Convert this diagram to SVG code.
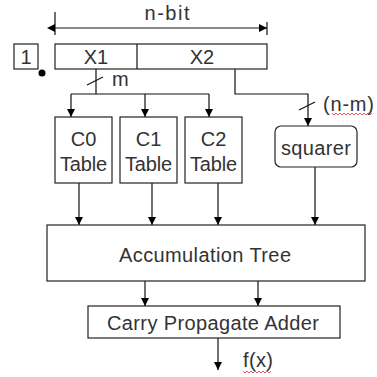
<svg xmlns="http://www.w3.org/2000/svg" width="377" height="377" viewBox="0 0 377 377">
<style>
.box{fill:#fff;stroke:#222;stroke-width:1.2}
.ln{fill:none;stroke:#111;stroke-width:1.2}
.t{font-family:"Liberation Sans",Arial,sans-serif;font-size:20px;fill:#333;text-anchor:middle}
.s{text-anchor:start}
.sq{fill:none;stroke:#e03030;stroke-width:0.8}
</style>
<defs>
<marker id="ah" viewBox="0 0 8 10" refX="8" refY="5" markerWidth="8" markerHeight="10" markerUnits="userSpaceOnUse" orient="auto">
<path d="M0,1 L8,5 L0,9 Z" fill="#000"/>
</marker>
<marker id="ahs" viewBox="0 0 8 10" refX="0" refY="5" markerWidth="8" markerHeight="10" markerUnits="userSpaceOnUse" orient="auto-start-reverse">
<path d="M0,1 L8,5 L0,9 Z" fill="#000"/>
</marker>
</defs>
<rect width="377" height="377" fill="#fff"/>
<g id="connectors">
<path class="ln" d="M55,12 V35 M267,22 V35"/>
<line class="ln" x1="55" y1="28" x2="267" y2="28" marker-start="url(#ahs)" marker-end="url(#ah)"/>
<path class="ln" d="M96,69 V94 M71,94 H209"/>
<line class="ln" x1="87" y1="85" x2="103" y2="77"/>
<line class="ln" x1="71" y1="94" x2="71" y2="117" marker-end="url(#ah)"/>
<line class="ln" x1="145" y1="94" x2="145" y2="117" marker-end="url(#ah)"/>
<line class="ln" x1="209" y1="94" x2="209" y2="117" marker-end="url(#ah)"/>
<path class="ln" d="M235,69 V94 H308 V126" marker-end="url(#ah)"/>
<line class="ln" x1="299" y1="110" x2="315" y2="102"/>
<line class="ln" x1="79" y1="183" x2="79" y2="225" marker-end="url(#ah)"/>
<line class="ln" x1="152" y1="183" x2="152" y2="225" marker-end="url(#ah)"/>
<line class="ln" x1="218" y1="183" x2="218" y2="225" marker-end="url(#ah)"/>
<line class="ln" x1="315" y1="167" x2="315" y2="225" marker-end="url(#ah)"/>
<line class="ln" x1="145" y1="281" x2="145" y2="306" marker-end="url(#ah)"/>
<line class="ln" x1="258" y1="281" x2="258" y2="306" marker-end="url(#ah)"/>
<line class="ln" x1="218" y1="338" x2="218" y2="370" marker-end="url(#ah)"/>
</g>
<text class="t" x="167" y="20" textLength="45">n-bit</text>
<text class="t s" x="112" y="86">m</text>
<text class="t s" x="323" y="111" textLength="51">(n-m)</text>
<path class="sq" d="M332,113 l2,2 l2,-2 l2,2 l2,-2 l2,2 l2,-2 l2,2 l2,-2 l2,2 l2,-2 l2,2 l2,-2 l2,2 l2,-2 l2,2 l2,-2 l2,2 l2,-2 l2,2 l2,-2"/>
<text class="t s" x="243" y="367" textLength="30">f(x)</text>
<path class="sq" d="M243,371 l2,2 l2,-2 l2,2 l2,-2 l2,2 l2,-2 l2,2 l2,-2 l2,2 l2,-2 l2,2 l2,-2 l2,2 l2,-2"/>
<g id="one">
<rect class="box" x="14" y="44" width="24" height="25"/>
<text class="t" x="26" y="64">1</text>
<circle cx="42" cy="73" r="3.5" fill="#000"/>
</g>
<g id="input">
<rect class="box" x="55" y="44" width="212" height="25"/>
<line class="ln" x1="137" y1="44" x2="137" y2="69"/>
<text class="t" x="96" y="64">X1</text>
<text class="t" x="202" y="64">X2</text>
</g>
<g id="c0">
<rect class="box" x="55" y="117" width="57" height="66"/>
<text class="t" x="83.5" y="146">C0</text>
<text class="t" x="83.5" y="171" textLength="47">Table</text>
</g>
<g id="c1">
<rect class="box" x="120" y="117" width="57" height="66"/>
<text class="t" x="148.5" y="146">C1</text>
<text class="t" x="148.5" y="171" textLength="47">Table</text>
</g>
<g id="c2">
<rect class="box" x="185" y="117" width="57" height="66"/>
<text class="t" x="213.5" y="146">C2</text>
<text class="t" x="213.5" y="171" textLength="47">Table</text>
</g>
<g id="squarer">
<rect class="box" x="275" y="126" width="82" height="41" rx="6"/>
<text class="t" x="316" y="155" textLength="70">squarer</text>
</g>
<g id="acc">
<rect class="box" x="47" y="225" width="318" height="56"/>
<text class="t" x="205" y="262" textLength="172">Accumulation Tree</text>
</g>
<g id="cpa">
<rect class="box" x="88" y="306" width="252" height="32"/>
<text class="t" x="213" y="330" textLength="212">Carry Propagate Adder</text>
</g>
</svg>
